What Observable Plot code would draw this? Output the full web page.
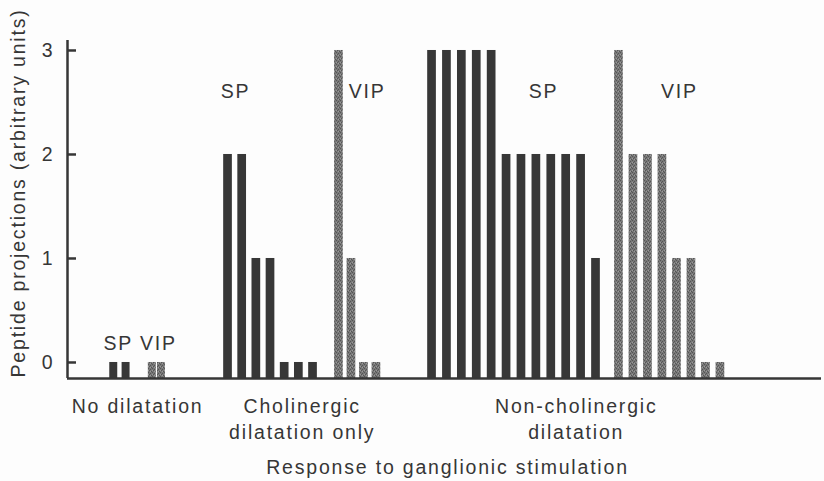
<!DOCTYPE html>
<html>
<head>
<meta charset="utf-8">
<script src="https://cdn.jsdelivr.net/npm/d3@7"></script>
<script src="https://cdn.jsdelivr.net/npm/@observablehq/plot@0.6"></script>
<style>
  html, body { margin: 0; padding: 0; background: #fdfdfd; }
</style>
</head>
<body>
<div id="chart"></div>
<script>
// ---- data ----
const groupNames = ["No dilatation", "Cholinergic\ndilatation only", "Non-cholinergic\ndilatation"];
const seriesNames = ["SP", "VIP"];
const noDilatationSP = [0, 0];
const noDilatationVIP = [0, 0];
const cholinergicSP = [2, 2, 1, 1, 0, 0, 0];
const cholinergicVIP = [3, 1, 0, 0];
const nonCholinergicSP = [3, 3, 3, 3, 3, 2, 2, 2, 2, 2, 2, 1];
const nonCholinergicVIP = [3, 2, 2, 2, 1, 1, 0, 0];
const yTicks = [0, 1, 2, 3];
const yTitle = "Peptide projections (arbitrary units)";
const xTitle = "Response to ganglionic stimulation";

// ---- layout (in bar-slot units of the x scale; label spots in bar-index / value units) ----
const layout = [
  {group: 0, series: "SP",  values: noDilatationSP,    start: 3.19,  step: 0.85,  width: 0.55, labelAt: 0.37, labelY: 0.18},
  {group: 0, series: "VIP", values: noDilatationVIP,   start: 5.85,  step: 0.63,  width: 0.55, labelAt: 0.67, labelY: 0.18},
  {group: 1, series: "SP",  values: cholinergicSP,     start: 11.07, step: 0.977, width: 0.6,  labelAt: 0.53, labelY: 2.6},
  {group: 1, series: "VIP", values: cholinergicVIP,    start: 18.72, step: 0.862, width: 0.6,  labelAt: 2.26, labelY: 2.6},
  {group: 2, series: "SP",  values: nonCholinergicSP,  start: 25.14, step: 1.028, width: 0.6,  labelAt: 7.48, labelY: 2.6},
  {group: 2, series: "VIP", values: nonCholinergicVIP, start: 38.03, step: 1.0,   width: 0.6,  labelAt: 4.17, labelY: 2.6}
];
const yBase = -0.154;
const xMax = 52;

const bars = layout.flatMap(s => s.values.map((v, i) => ({
  group: s.group, series: s.series, value: v, pos: s.start + i * s.step, w: s.width
})));
const seriesLabels = layout.map(s => ({text: s.series, x: s.start + s.labelAt * s.step, y: s.labelY}));
const groupLabels = groupNames.map((name, g) => {
  const gb = bars.filter(b => b.group === g);
  const lo = d3.min(gb, b => b.pos - b.w / 2), hi = d3.max(gb, b => b.pos + b.w / 2);
  return {text: name, x: (lo + hi) / 2};
});

const ink = "#363636";
const fs = 19.5;
const chart = Plot.plot({
  width: 824,
  height: 481,
  marginLeft: 67,
  marginRight: 3,
  marginTop: 40,
  marginBottom: 103,
  style: {fontFamily: "'Liberation Sans', Arial, sans-serif", fontSize: fs + "px", letterSpacing: "1.8px", color: ink, background: "#fdfdfd"},
  x: {domain: [0, xMax], axis: null},
  y: {domain: [yBase, 3.096], axis: null},
  marks: [
    Plot.rectY(bars.filter(b => b.series === "SP"), {
      x1: b => b.pos - b.w / 2, x2: b => b.pos + b.w / 2, y1: yBase, y2: "value", fill: "#373737"
    }),
    Plot.rectY(bars.filter(b => b.series === "VIP"), {
      x1: b => b.pos - b.w / 2, x2: b => b.pos + b.w / 2, y1: yBase, y2: "value", fill: "url(#stipple)"
    }),
    Plot.ruleY([yBase], {x1: 0, x2: xMax, stroke: ink, strokeWidth: 2.5}),
    Plot.ruleX([0], {y1: yBase, y2: 3.096, stroke: ink, strokeWidth: 2.5}),
    Plot.ruleY(yTicks, {x1: 0, x2: 0.62, stroke: ink, strokeWidth: 2.5}),
    Plot.axisY({ticks: yTicks, tickSize: 0, tickPadding: 13, tickFormat: d => String(d), label: null, fontSize: fs}),
    Plot.text(seriesLabels, {x: "x", y: "y", text: "text", fontSize: fs, fill: ink}),
    Plot.text(groupLabels, {x: "x", text: "text", frameAnchor: "bottom", lineAnchor: "top", dy: 16, lineHeight: 1.33, fontSize: fs, fill: ink}),
    Plot.text([xTitle], {frameAnchor: "bottom", lineAnchor: "top", dy: 82, dx: 3, fontSize: fs, fill: ink}),
    Plot.text([yTitle], {frameAnchor: "left", textAnchor: "middle", y: 1.63, dx: -49, rotate: -90, fontSize: fs, fill: ink})
  ]
});

// fine stippled fill for the VIP bars
const svg = d3.select(chart);
const defs = svg.insert("defs", ":first-child");
const pat = defs.append("pattern").attr("id", "stipple").attr("patternUnits", "userSpaceOnUse").attr("width", 4).attr("height", 4);
pat.append("rect").attr("width", 4).attr("height", 4).attr("fill", "#787878");
[[0, 0], [2, 1], [1, 2], [3, 3]].forEach(([px, py]) =>
  pat.append("rect").attr("x", px).attr("y", py).attr("width", 1).attr("height", 1).attr("fill", "#555555"));
[[2, 3], [0, 2]].forEach(([px, py]) =>
  pat.append("rect").attr("x", px).attr("y", py).attr("width", 1).attr("height", 1).attr("fill", "#9a9a9a"));

document.getElementById("chart").appendChild(chart);
</script>
</body>
</html>
